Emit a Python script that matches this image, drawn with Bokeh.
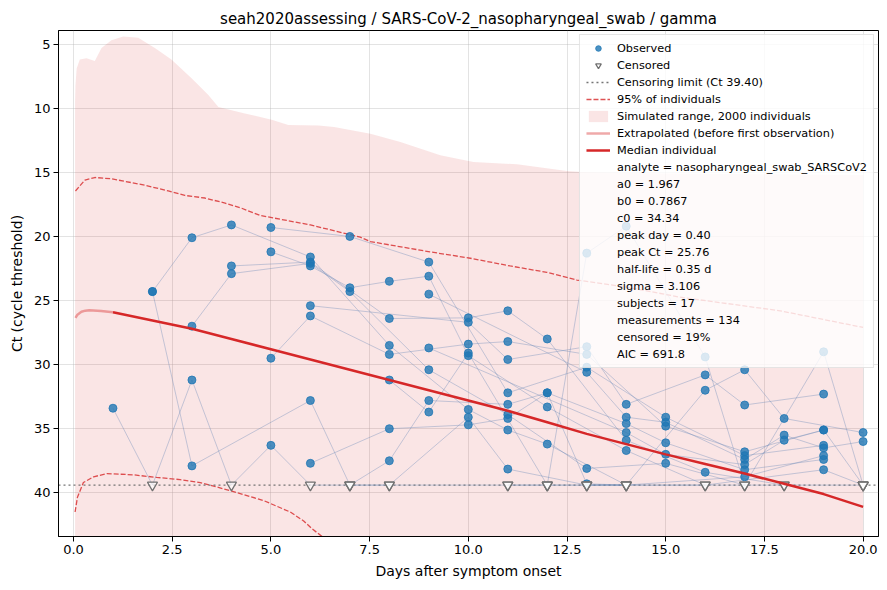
from bokeh.plotting import figure
from bokeh.models import Range1d, FixedTicker, Legend, LegendItem, PrintfTickFormatter
from bokeh.embed import file_html
from bokeh.resources import INLINE

TITLE = "seah2020assessing / SARS-CoV-2_nasopharyngeal_swab / gamma"
CENSOR_LIMIT = 39.40
X_LIM = [-0.38, 20.39]
Y_LIM = [43.41, 3.93]

# Per-subject measurements (None = censored, plotted at the censoring limit)
subject_days = [
    [1, 2, 3, 4, 5, 6, 7, 8, 11, 12],
    [2, 3, 6, 7, 8, 10, 11, 13, 14],
    [2, 3, 4, 6, 8, 10, 11, 12, 14],
    [3, 4, 6, 7, 9, 11, 13, 15, 17],
    [4, 6, 8, 10, 11, 12, 14, 16, 18],
    [5, 7, 9, 11, 13, 15, 17, 19],
    [5, 6, 7, 8, 9, 10, 12, 14, 16],
    [5, 6, 8, 10, 11, 13, 15, 17, 19],
    [6, 10, 11, 13, 14, 16, 17, 19],
    [6, 8, 10, 11, 12, 14, 15, 17, 19],
    [7, 8, 9, 11, 12, 13, 14, 16, 17, 18, 20],
    [8, 9, 10, 12, 13, 14, 16, 17, 19, 20],
    [9, 13, 14, 15, 17, 18, 19, 20],
    [9, 14, 15, 17, 18, 19, 20],
    [11, 13, 14, 17, 19],
    [12, 16, 19, 20],
    [13, 18, 20],
]
subject_ct = [
    [33.4, None, 31.2, None, 36.3, None, None, None, None, None],
    [24.3, 37.9, 32.8, None, None, 34.1, 38.15, None, None],
    [24.3, 20.1, 19.1, 21.6, 28.5, 33.5, 35.1, 36.2, None],
    [27.0, 22.9, 22.1, 24.3, 30.4, 33.9, 38.1, 37.7, None],
    [22.3, 22.0, 26.4, 26.35, 25.8, 28.0, 35.9, 38.4, None],
    [19.3, 20.0, 22.0, 32.2, 30.2, 34.1, 37.1, 36.3],
    [21.2, 22.3, 24.0, 23.5, 23.1, 29.3, 33.3, 36.7, None],
    [29.5, 26.2, 29.2, 28.4, 28.2, 29.2, 34.8, 36.8, 35.1],
    [25.4, 26.7, 29.6, 28.6, 33.1, 30.8, 33.15, 32.3],
    [37.7, 35.0, 34.7, 34.2, 32.2, 34.6, 36.1, 38.2, 37.4],
    [None, 37.5, 32.8, 33.1, 32.2, 39.3, None, 32.0, 30.4, 34.2, 35.3],
    [31.2, 33.7, 29.1, None, 21.3, 19.2, 29.4, None, 29.0, None],
    [24.5, 30.6, 34.1, 34.5, 37.4, 35.5, 36.5, 36.0],
    [28.7, 35.3, 37.0, 37.8, 35.9, 35.1, None],
    [None, None, None, 38.75, 37.1],
    [None, None, 38.2, None],
    [None, None, None],
]

# Simulated range (2000 individuals): upper edge (lowest Ct) and lower edge
sim_days = [0.04, 0.05, 0.08, 0.16, 0.33, 0.54, 0.71, 0.96, 1.26, 1.64, 2.06, 2.48, 2.99,
            3.41, 3.67, 4.34, 5.02, 5.44, 6.2, 6.6, 7.52, 8.28, 9.29, 10.13, 11.23, 12.5,
            12.88, 14.0, 16.0, 18.0, 20.0]
sim_low_ct = [9.5, 8.2, 6.9, 6.2, 6.1, 6.3, 5.3, 4.7, 4.4, 4.5, 5.3, 6.2, 7.65,
              8.95, 9.9, 10.4, 10.9, 11.3, 11.35, 11.46, 11.98, 12.63, 13.67, 14.19, 14.37, 14.9,
              14.97, 15.05, 15.1, 15.15, 15.2]
sim_high_ct = [50.0] * len(sim_days)

# 95% of individuals
p95_up_days = [0.05, 0.29, 0.54, 0.96, 1.3, 1.81, 2.4, 2.82, 3.33, 3.84, 4.26, 4.73, 6.0,
               7.26, 7.52, 9.03, 10.05, 11.06, 11.99, 12.75, 14.1, 15.37, 17.9, 20.0]
p95_up_ct = [16.45, 15.6, 15.4, 15.5, 15.7, 16.0, 16.45, 16.8, 17.0, 17.4, 17.8, 18.36, 19.1,
             20.05, 20.4, 21.2, 21.7, 22.3, 22.8, 23.4, 24.0, 24.74, 25.8, 27.1]
p95_lo_days = [0.04, 0.1, 0.25, 0.51, 0.85, 1.52, 2.11, 2.7, 3.21, 4.05, 4.81, 5.49,
               5.83, 6.04, 6.29, 6.6]
p95_lo_ct = [41.5, 40.35, 39.2, 38.75, 38.5, 38.6, 38.8, 38.97, 39.2, 39.9, 40.6, 41.5,
             42.2, 42.8, 43.4, 44.2]

# Median individual
extrap_days = [0.05, 0.1, 0.2, 0.3, 0.4, 0.5, 0.7, 1.0]
extrap_ct = [26.35, 26.1, 25.88, 25.79, 25.76, 25.77, 25.82, 25.92]
median_days = [1, 2, 3, 4, 5, 6, 7, 8, 9, 10, 11, 12, 13, 14, 15, 16, 17, 18, 19, 20]
median_ct = [25.92, 26.55, 27.2, 28.0, 28.8, 29.6, 30.4, 31.2, 32.0, 32.8, 33.6, 34.5,
             35.4, 36.2, 37.0, 37.75, 38.5, 39.3, 40.1, 41.1]

fit_labels = [
    "analyte = nasopharyngeal_swab_SARSCoV2",
    "a0 = 1.967",
    "b0 = 0.7867",
    "c0 = 34.34",
    "peak day = 0.40",
    "peak Ct = 25.76",
    "half-life = 0.35 d",
    "sigma = 3.106",
    "subjects = 17",
    "measurements = 134",
    "censored = 19%",
    "AIC = 691.8",
]

x_ticks = [0.0, 2.5, 5.0, 7.5, 10.0, 12.5, 15.0, 17.5, 20.0]
y_ticks = [5, 10, 15, 20, 25, 30, 35, 40]

FONT = "DejaVu Sans"
RED = "#d62728"

p = figure(width=887, height=590, output_backend="svg", toolbar_location=None,
           x_range=Range1d(*X_LIM), y_range=Range1d(*Y_LIM),
           min_border_left=58, min_border_right=9, min_border_top=30, min_border_bottom=54)
p.background_fill_color = "white"
p.outline_line_color = "black"
p.outline_line_width = 1

p.title.text = TITLE
p.title.align = "center"
p.title.text_font = FONT
p.title.text_font_size = "15px"
p.title.text_font_style = "normal"
p.title.text_color = "black"
p.title.standoff = 6

for ax in (p.xaxis[0], p.yaxis[0]):
    ax.major_label_text_font = FONT
    ax.major_label_text_font_size = "13px"
    ax.major_label_text_color = "black"
    ax.axis_label_text_font = FONT
    ax.axis_label_text_font_size = "14px"
    ax.axis_label_text_font_style = "normal"
    ax.axis_label_text_color = "black"
    ax.major_tick_in = 0
    ax.major_tick_out = 5
    ax.major_tick_line_color = "black"
    ax.minor_tick_in = 0
    ax.minor_tick_out = 0
    ax.axis_line_color = "black"
    ax.major_label_standoff = 3
    ax.axis_label_standoff = 6

p.xaxis[0].ticker = FixedTicker(ticks=x_ticks)
p.xaxis[0].formatter = PrintfTickFormatter(format="%.1f")
p.xaxis[0].axis_label = "Days after symptom onset"
p.yaxis[0].ticker = FixedTicker(ticks=y_ticks)
p.yaxis[0].axis_label = "Ct (cycle threshold)"

p.xgrid.grid_line_color = "#b0b0b0"
p.ygrid.grid_line_color = "#b0b0b0"
p.xgrid.grid_line_alpha = 0.35
p.ygrid.grid_line_alpha = 0.35

# Simulated range
r_sim = p.varea(x=sim_days, y1=sim_low_ct, y2=sim_high_ct, fill_color=RED, fill_alpha=0.12)

# 95% lines
r_p95 = p.line(p95_up_days, p95_up_ct, line_color=RED, line_alpha=0.8, line_width=1.3, line_dash="5 2")
p.line(p95_lo_days, p95_lo_ct, line_color=RED, line_alpha=0.8, line_width=1.3, line_dash="5 2")

# Censoring limit
r_cens_lim = p.line(X_LIM, [CENSOR_LIMIT, CENSOR_LIMIT], line_color="#666666",
                    line_alpha=0.9, line_width=1.4, line_dash="2 3")

# Subject trajectories
xs, ys = [], []
obs_x, obs_y, cen_x, cen_y = [], [], [], []
for d, c in zip(subject_days, subject_ct):
    yy = [CENSOR_LIMIT if v is None else v for v in c]
    xs.append(d)
    ys.append(yy)
    for di, v in zip(d, c):
        if v is None:
            cen_x.append(di); cen_y.append(CENSOR_LIMIT)
        else:
            obs_x.append(di); obs_y.append(v)
p.multi_line(xs, ys, line_color="#6a88b8", line_alpha=0.38, line_width=1)

r_obs = p.scatter(obs_x, obs_y, marker="circle", size=8, fill_color="#1f77b4", fill_alpha=0.8,
                  line_color="#1f77b4", line_alpha=0.8)
r_cen = p.scatter(cen_x, cen_y, marker="inverted_triangle", size=10, fill_color="white",
                  fill_alpha=0.6, line_color="#707070", line_width=1.3)

# Median individual
r_ext = p.line(extrap_days, extrap_ct, line_color=RED, line_alpha=0.4, line_width=2.5)
r_med = p.line(median_days, median_ct, line_color=RED, line_width=2.5)

items = [
    LegendItem(label="Observed", renderers=[r_obs]),
    LegendItem(label="Censored", renderers=[r_cen]),
    LegendItem(label="Censoring limit (Ct %.2f)" % CENSOR_LIMIT, renderers=[r_cens_lim]),
    LegendItem(label="95% of individuals", renderers=[r_p95]),
    LegendItem(label="Simulated range, 2000 individuals", renderers=[r_sim]),
    LegendItem(label="Extrapolated (before first observation)", renderers=[r_ext]),
    LegendItem(label="Median individual", renderers=[r_med]),
]
for lab in fit_labels:
    r_blank = p.line([], [], line_alpha=0)
    items.append(LegendItem(label=lab, renderers=[r_blank]))

legend = Legend(items=items, location="top_right", margin=4, padding=6, spacing=3,
                label_standoff=7, glyph_width=24, glyph_height=14, label_height=14,
                label_text_font=FONT, label_text_font_size="11.3px", label_text_color="black",
                border_line_color="#cccccc", border_line_width=1,
                background_fill_color="white", background_fill_alpha=0.8)
p.add_layout(legend)

open("out.html", "w").write(file_html(p, INLINE))
